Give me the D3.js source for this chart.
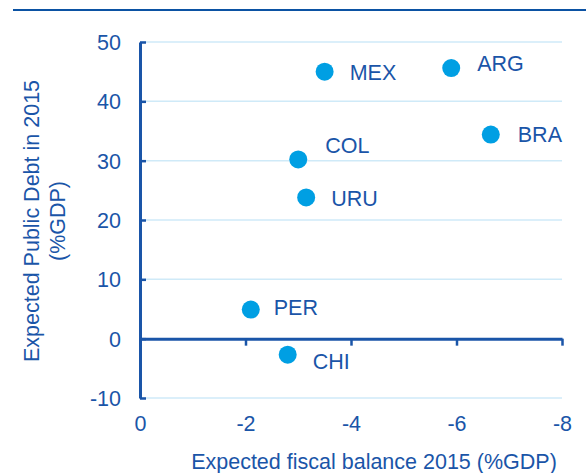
<!DOCTYPE html>
<html>
<head>
<meta charset="utf-8">
<script src="https://cdn.jsdelivr.net/npm/d3@7"></script>
<style>
  html, body { margin: 0; padding: 0; background: #fff; }
  svg { display: block; font-family: "Liberation Sans", Arial, sans-serif; }
</style>
</head>
<body>
<svg id="chart" width="586" height="473"></svg>
<script>
// ---- data ----
const countries = ["MEX", "ARG", "BRA", "COL", "URU", "PER", "CHI"];
const fiscalBalance = [-3.5, -5.9, -6.65, -3.0, -3.15, -2.1, -2.8];
const publicDebt = [45.0, 45.6, 34.4, 30.2, 23.8, 4.9, -2.7];
const xTicks = [0, -2, -4, -6, -8];
const yTicks = [-10, 0, 10, 20, 30, 40, 50];
const xTitle = "Expected fiscal balance 2015 (%GDP)";
const yTitleLines = ["Expected Public Debt in 2015", "(%GDP)"];

// ---- label placement (style, not data) ----
const labelOffset = {
  MEX: [25, 1], ARG: [26, -5], BRA: [27, 0], COL: [27, -14],
  URU: [25, 1], PER: [23, -2], CHI: [25, 7]
};

const dark = "#1a55a8";
const dot = "#009fe3";
const grid = "#cfeaf8";
const fs = 21.5;
const plainNum = d => (d < 0 ? "-" : "") + Math.abs(d);

const svg = d3.select("#chart");
const x = d3.scaleLinear().domain([0, -8]).range([140, 562]);
const y = d3.scaleLinear().domain([-10, 50]).range([398, 42]);

// top rule
svg.append("line").attr("x1", 13).attr("x2", 586).attr("y1", 10).attr("y2", 10)
  .attr("stroke", "#0b52a3").attr("stroke-width", 2);

// gridlines
svg.append("g").selectAll("line").data(yTicks.filter(d => d !== 0)).join("line")
  .attr("x1", x(0)).attr("x2", x(-8))
  .attr("y1", d => y(d)).attr("y2", d => y(d))
  .attr("stroke", grid).attr("stroke-width", 1.5);

// y axis
const yAxis = svg.append("g").attr("transform", `translate(${x(0)},0)`)
  .call(d3.axisRight(y).tickValues(yTicks).tickSize(6).tickSizeOuter(0).tickFormat(plainNum));
yAxis.select(".domain").attr("stroke", dark).attr("stroke-width", 3);
yAxis.selectAll(".tick line").attr("stroke", dark).attr("stroke-width", 2.5);
yAxis.selectAll(".tick text").attr("x", -19).attr("text-anchor", "end")
  .attr("fill", dark).attr("font-size", fs).attr("dy", "0.35em");

// x axis at y=0
const xAxis = svg.append("g").attr("transform", `translate(0,${y(0)})`)
  .call(d3.axisBottom(x).tickValues(xTicks).tickSize(7).tickSizeOuter(0).tickFormat(plainNum));
xAxis.select(".domain").attr("stroke", dark).attr("stroke-width", 3);
xAxis.selectAll(".tick line").attr("stroke", dark).attr("stroke-width", 2.5);
xAxis.selectAll(".tick text").attr("y", y(-10) - y(0) + 25)
  .attr("fill", dark).attr("font-size", fs).attr("dy", "0.35em");

// points
svg.append("g").selectAll("circle").data(countries).join("circle")
  .attr("cx", (d, i) => x(fiscalBalance[i]))
  .attr("cy", (d, i) => y(publicDebt[i]))
  .attr("r", 9).attr("fill", dot);

// labels
svg.append("g").selectAll("text").data(countries).join("text")
  .attr("x", (d, i) => x(fiscalBalance[i]) + labelOffset[d][0])
  .attr("y", (d, i) => y(publicDebt[i]) + labelOffset[d][1])
  .attr("dy", "0.35em").attr("fill", dark).attr("font-size", fs)
  .text(d => d);

// axis titles
svg.append("text").attr("x", 374).attr("y", 461).attr("dy", "0.35em")
  .attr("text-anchor", "middle").attr("fill", dark).attr("font-size", fs)
  .text(xTitle);

const yt = svg.append("text").attr("transform", "translate(31,221) rotate(-90)")
  .attr("text-anchor", "middle").attr("fill", dark).attr("font-size", fs);
yTitleLines.forEach((t, i) => {
  yt.append("tspan").attr("x", 0).attr("y", i * 26).attr("dy", "0.35em").text(t);
});
</script>
</body>
</html>
